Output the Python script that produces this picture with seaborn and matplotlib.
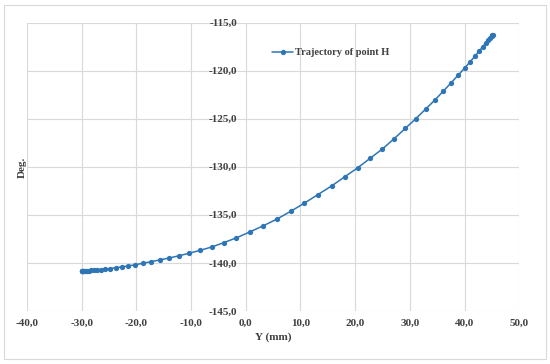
import numpy as np
import pandas as pd
import matplotlib
matplotlib.use("Agg")
import matplotlib.pyplot as plt
import seaborn as sns
from matplotlib.ticker import FuncFormatter, MultipleLocator
from matplotlib.patches import Rectangle

# Trajectory of point H
y_mm = [-30.0, -29.97, -29.92, -29.84, -29.72, -29.56, -29.35, -29.08, -28.74, -28.32,
        -27.8, -27.2, -26.5, -25.7, -24.8, -23.8, -22.7, -21.5, -20.2, -18.8,
        -17.3, -15.7, -14.0, -12.2, -10.3, -8.3, -6.2, -4.0, -1.7, 0.7,
        3.2, 5.7, 8.2, 10.7, 13.2, 15.7, 18.1, 20.5, 22.8, 25.0,
        27.1, 29.2, 31.1, 32.9, 34.6, 36.1, 37.5, 38.8, 40.0, 41.0,
        41.9, 42.7, 43.35, 43.9, 44.35, 44.7, 44.95, 45.1, 45.2]
deg = [-140.85, -140.85, -140.85, -140.85, -140.84, -140.84, -140.83, -140.82, -140.81, -140.79,
       -140.77, -140.74, -140.70, -140.66, -140.60, -140.52, -140.43, -140.33, -140.20, -140.05,
       -139.88, -139.70, -139.50, -139.27, -139.00, -138.70, -138.35, -137.90, -137.40, -136.80,
       -136.15, -135.45, -134.65, -133.80, -132.90, -132.00, -131.05, -130.10, -129.10, -128.15,
       -127.10, -126.00, -125.00, -124.00, -123.05, -122.15, -121.30, -120.50, -119.75, -119.10,
       -118.50, -117.95, -117.50, -117.10, -116.80, -116.57, -116.42, -116.33, -116.28]
series_label = "Trajectory of point H"

df = pd.DataFrame({"Y": y_mm, "Deg": deg})

sns.set_theme(style="white")
plt.rcParams['font.family'] = ['Liberation Serif', 'DejaVu Serif']
plt.rcParams['font.weight'] = 'bold'

fig = plt.figure(figsize=(5.5, 3.64), dpi=100)
ax = fig.add_axes([0.049, 0.146, 0.895, 0.792])

# light outer frame of the chart area
fig.patches.append(Rectangle((0.008, 0.014), 0.984, 0.972, transform=fig.transFigure,
                             fill=False, edgecolor='#d9d9d9', linewidth=0.8))

sns.lineplot(data=df, x="Y", y="Deg", sort=False, ax=ax, color='#2E75B6',
             linewidth=1.1, marker='o', markersize=3.8, markeredgewidth=0,
             label=series_label)

ax.set_xlim(-40, 50)
ax.set_ylim(-145, -115)
ax.xaxis.set_major_locator(MultipleLocator(10))
ax.yaxis.set_major_locator(MultipleLocator(5))
fmt = FuncFormatter(lambda v, p: f"{v:.1f}".replace('.', ','))
ax.xaxis.set_major_formatter(fmt)
ax.yaxis.set_major_formatter(fmt)

ax.grid(True, color='#d9d9d9', linewidth=0.8)
for s in ['top', 'right', 'bottom']:
    ax.spines[s].set_visible(False)
ax.spines['left'].set_position(('data', 0))
ax.spines['left'].set_visible(False)
ax.tick_params(axis='both', length=0, labelsize=8, colors='#404040')
ax.tick_params(axis='y', pad=6)
ax.tick_params(axis='x', pad=6)
for lbl in ax.get_xticklabels() + ax.get_yticklabels():
    lbl.set_fontweight('bold')

ax.set_xlabel("Y (mm)", fontsize=8, fontweight='bold', color='#404040', labelpad=3)
ax.set_ylabel("")
fig.text(0.04, 0.541, "Deg.", rotation=90, ha='center', va='center',
         fontsize=8, fontweight='bold', color='#404040')

leg = ax.legend(loc='center left', bbox_to_anchor=(0.49, 0.895), frameon=False,
                fontsize=7.5, handlelength=2.0, handletextpad=0.2, borderaxespad=0)
for t in leg.get_texts():
    t.set_fontweight('bold')
    t.set_color('#404040')

fig.savefig("out.png", dpi=100)
